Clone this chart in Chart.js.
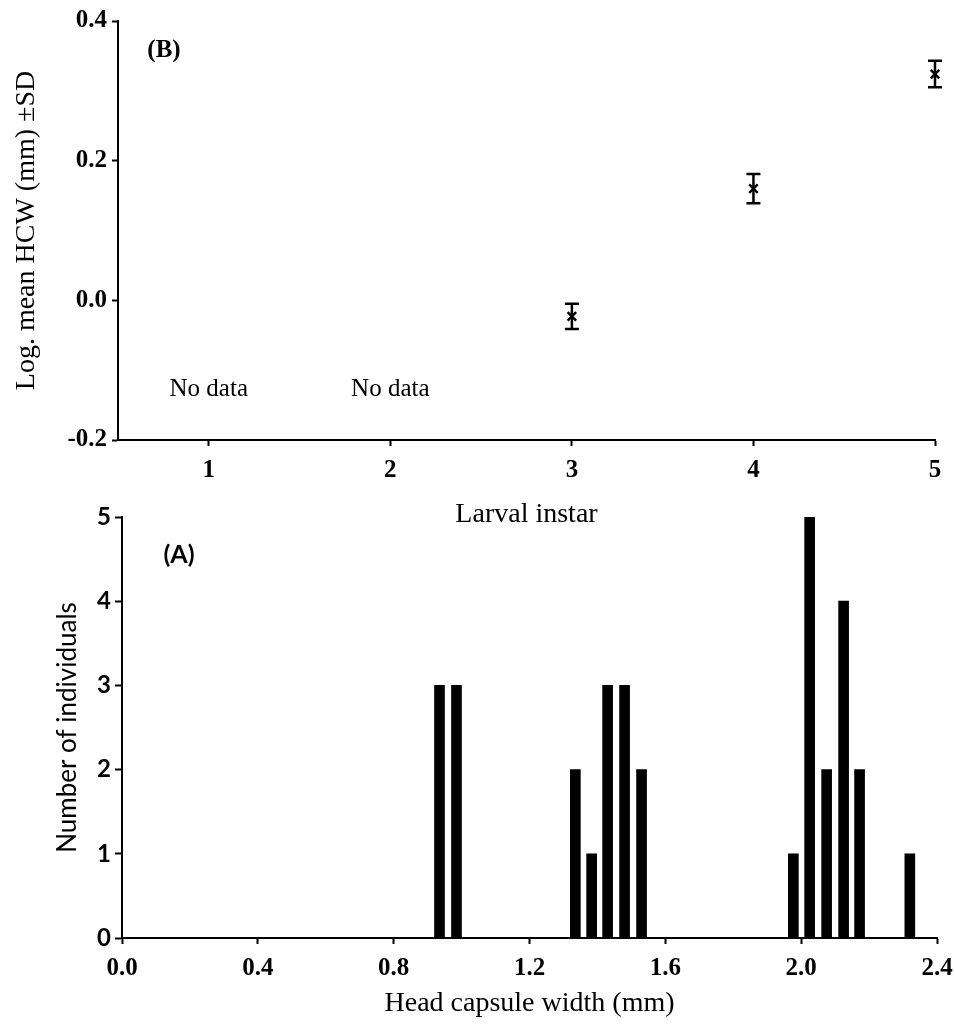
<!DOCTYPE html>
<html lang="en">
  <head>
    <meta charset="UTF-8">
    <title>Head capsule width</title>
    <style>
      body { margin: 0; background: #fff; }
      .panel { position: absolute; left: 0; }
    </style>
  </head>
  <body>
    <div class="panel" style="top: 0px"><canvas id="chartB" width="955" height="540"></canvas></div>
    <div class="panel" style="top: 480px"><canvas id="chartA" width="955" height="546"></canvas></div>

    <script src="https://cdn.jsdelivr.net/npm/chart.js"></script>
    <script>
      // panel B: log mean HCW per instar
      const instars = [3, 4, 5];
      const logMeanHCW = [-0.023, 0.160, 0.324];
      const logSD = [0.018, 0.021, 0.019];
      const noDataInstars = [1, 2];
      const instarTicks = [1, 2, 3, 4, 5];
      const logTicks = [-0.2, 0.0, 0.2, 0.4];

      // panel A: frequency of head capsule widths
      const widthBins = [0.935, 0.985, 1.335, 1.383, 1.43, 1.48, 1.53, 1.977, 2.025, 2.075, 2.125, 2.172, 2.32];
      const counts = [3, 3, 2, 1, 3, 3, 2, 1, 5, 2, 4, 2, 1];
      const widthTicks = [0.0, 0.4, 0.8, 1.2, 1.6, 2.0, 2.4];
      const countTicks = [0, 1, 2, 3, 4, 5];

      const serif = '"Liberation Serif", "Times New Roman", serif';
      const sans = 'Lato, "Open Sans", sans-serif';

      function axisStyle(tickLen) {
        return {
          grid: { drawOnChartArea: false, drawTicks: true, offset: false, tickLength: tickLen, tickColor: '#000', tickWidth: 2 },
          border: { display: true, color: '#000', width: 2 }
        };
      }
      function setTicks(list) {
        return s => { s.ticks = list.map(v => ({ value: v })); };
      }
      // fixed box size, and no extra side padding from the edge labels
      function fixHeight(h) {
        return s => { s.height = h; s.paddingLeft = 0; s.paddingRight = 0; };
      }

      const marksB = {
        id: 'marksB',
        afterDatasetsDraw(chart) {
          const { ctx, chartArea } = chart;
          const x = chart.scales.x, y = chart.scales.y;
          ctx.save();
          ctx.strokeStyle = '#000';
          ctx.lineWidth = 2.5;
          instars.forEach((v, i) => {
            const px = x.getPixelForValue(v);
            const hi = y.getPixelForValue(logMeanHCW[i] + logSD[i]);
            const lo = y.getPixelForValue(logMeanHCW[i] - logSD[i]);
            ctx.beginPath();
            ctx.moveTo(px, hi); ctx.lineTo(px, lo);
            ctx.moveTo(px - 7, hi); ctx.lineTo(px + 7, hi);
            ctx.moveTo(px - 7, lo); ctx.lineTo(px + 7, lo);
            ctx.stroke();
          });
          ctx.fillStyle = '#000';
          ctx.textAlign = 'center';
          ctx.textBaseline = 'middle';
          ctx.font = '25px ' + serif;
          noDataInstars.forEach(v => {
            ctx.fillText('No data', x.getPixelForValue(v), y.getPixelForValue(-0.127));
          });
          ctx.font = 'bold 25px ' + serif;
          ctx.fillText('(B)', chartArea.left + 46, chartArea.top + 30);
          ctx.restore();
        }
      };

      const marksA = {
        id: 'marksA',
        afterDatasetsDraw(chart) {
          const { ctx, chartArea } = chart;
          ctx.save();
          ctx.fillStyle = '#000';
          ctx.textAlign = 'center';
          ctx.textBaseline = 'middle';
          ctx.font = 'bold 25px ' + sans;
          ctx.fillText('(A)', chartArea.left + 57, chartArea.top + 38);
          ctx.restore();
        }
      };

      new Chart(document.getElementById('chartB'), {
        type: 'scatter',
        data: {
          datasets: [{
            data: instars.map((v, i) => ({ x: v, y: logMeanHCW[i] })),
            pointStyle: 'crossRot',
            pointRadius: 6,
            borderWidth: 2.5,
            borderColor: '#000',
            backgroundColor: '#000',
            clip: false
          }]
        },
        options: {
          responsive: false,
          animation: false,
          devicePixelRatio: 1,
          layout: { padding: { top: 21, right: 20, left: 0, bottom: 0 } },
          plugins: { legend: { display: false }, tooltip: { enabled: false } },
          scales: {
            x: {
              type: 'linear', min: 0.5, max: 5,
              ...axisStyle(6),
              afterBuildTicks: setTicks(instarTicks),
              afterFit: fixHeight(100),
              ticks: { color: '#000', padding: 10, font: { family: serif, size: 25, weight: 'bold' } },
              title: { display: true, text: 'Larval instar', color: '#000', padding: { top: 0, bottom: 9 }, font: { family: serif, size: 28 } }
            },
            y: {
              type: 'linear', min: -0.2, max: 0.4,
              ...axisStyle(6),
              afterBuildTicks: setTicks(logTicks),
              afterFit: s => { s.width = 118; },
              ticks: { color: '#000', padding: 5, font: { family: serif, size: 25, weight: 'bold' }, callback: v => v.toFixed(1) },
              title: { display: true, text: 'Log. mean HCW (mm) ±SD', color: '#000', padding: { top: 10, bottom: 0 }, font: { family: serif, size: 28 } }
            }
          }
        },
        plugins: [marksB]
      });

      new Chart(document.getElementById('chartA'), {
        type: 'bar',
        data: {
          datasets: [{
            data: widthBins.map((v, i) => ({ x: v, y: counts[i] })),
            backgroundColor: '#000',
            borderWidth: 0,
            barThickness: 10
          }]
        },
        options: {
          responsive: false,
          animation: false,
          devicePixelRatio: 1,
          layout: { padding: { top: 37, right: 18, left: 0, bottom: 0 } },
          plugins: { legend: { display: false }, tooltip: { enabled: false } },
          scales: {
            x: {
              type: 'linear', min: 0, max: 2.4, offset: false,
              ...axisStyle(6),
              afterBuildTicks: setTicks(widthTicks),
              afterFit: fixHeight(88),
              ticks: { color: '#000', padding: 10, font: { family: serif, size: 25, weight: 'bold' }, callback: v => v.toFixed(1) },
              title: { display: true, text: 'Head capsule width (mm)', color: '#000', padding: { top: 0, bottom: 6 }, font: { family: serif, size: 28 } }
            },
            y: {
              type: 'linear', min: 0, max: 5,
              ...axisStyle(7),
              afterBuildTicks: setTicks(countTicks),
              afterFit: s => { s.width = 122; },
              ticks: { color: '#000', padding: 4, font: { family: sans, size: 24, weight: 'bold' } },
              title: { display: true, text: 'Number of individuals', color: '#000', padding: { top: 52, bottom: 0 }, font: { family: sans, size: 26 } }
            }
          }
        },
        plugins: [marksA]
      });
    </script>
  </body>
</html>
